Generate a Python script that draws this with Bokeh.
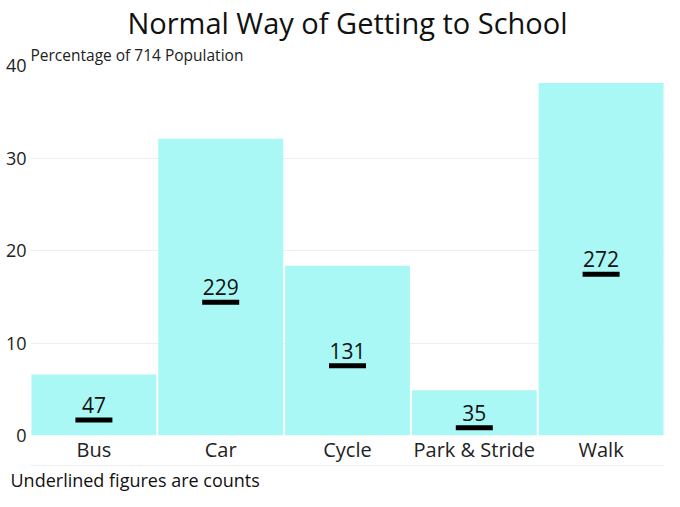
from bokeh.plotting import figure
from bokeh.models import (FactorRange, Range1d, Title, CategoricalAxis,
                          FixedTicker, ColumnDataSource)
from bokeh.core.properties import value
from bokeh.embed import file_html
from bokeh.resources import INLINE

# ---- data ----
modes = ["Bus", "Car", "Cycle", "Park & Stride", "Walk"]
counts = [47, 229, 131, 35, 272]
population = 714
y_ticks = [0, 10, 20, 30, 40]
title_text = "Normal Way of Getting to School"
y_label = "Percentage of 714 Population"
footer_text = "Underlined figures are counts"

pct = [c / population * 100 for c in counts]
half = [v / 2 for v in pct]

FONT = "Open Sans"
W, H = 664, 491
ML = 30
FRAME_H = 370
px_per_unit = FRAME_H / 40.0
under = [h - 15 / px_per_unit for h in half]

src = ColumnDataSource(dict(mode=modes, pct=pct, half=half, under=under,
                            label=[str(c) for c in counts]))

p = figure(x_range=FactorRange(*modes), y_range=Range1d(0, 40),
           width=W, height=H, output_backend="svg", toolbar_location=None,
           title=None, min_border_left=ML, min_border_right=0,
           min_border_top=0, min_border_bottom=0, outline_line_color=None)

p.vbar(x="mode", top="pct", width=0.985, source=src,
       fill_color="#aaf8f5", line_color=None)

p.text(x="mode", y="half", text="label", source=src,
       text_align="center", text_baseline="middle",
       text_font=value(FONT), text_font_size="21px", text_color="#111111")
p.rect(x="mode", y="under", width=37, height=5, width_units="screen",
       height_units="screen", source=src, fill_color="black", line_color=None)

# axes
p.xaxis.axis_line_color = None
p.xaxis.major_tick_line_color = None
p.xaxis.minor_tick_line_color = None
p.xaxis.major_tick_out = 0
p.xaxis.major_label_text_font = FONT
p.xaxis.major_label_text_font_size = "20px"
p.xaxis.major_label_text_color = "#222222"
p.xaxis.major_label_standoff = 0

p.yaxis.ticker = FixedTicker(ticks=y_ticks)
p.yaxis.axis_line_color = None
p.yaxis.major_tick_line_color = None
p.yaxis.minor_tick_line_color = None
p.yaxis.major_tick_out = 0
p.yaxis.major_label_text_font = FONT
p.yaxis.major_label_text_font_size = "18px"
p.yaxis.major_label_text_color = "#222222"
p.yaxis.major_label_standoff = 4

p.xgrid.grid_line_color = None
p.ygrid.grid_line_color = "#eeeeee"

# y label (nearest the frame), then main title above it
p.add_layout(Title(text=y_label, align="left", standoff=0,
                   text_font=FONT, text_font_size="15.5px",
                   text_font_style="normal", text_color="#222222"), "above")
p.add_layout(Title(text=title_text, align="center", standoff=0,
                   text_font=FONT, text_font_size="29px",
                   text_font_style="normal", text_color="#111111"), "above")

# thin separator line below x labels
sep = CategoricalAxis(axis_line_color="#eeeeee", major_tick_line_color=None,
                      minor_tick_line_color=None, major_tick_out=0,
                      major_label_text_font_size="0px",
                      major_label_text_alpha=0, major_label_standoff=0)
p.add_layout(sep, "below")

# footer
p.add_layout(Title(text=footer_text, align="left", offset=-20, standoff=0,
                   text_font=FONT, text_font_size="18px",
                   text_font_style="normal", text_color="#111111"), "below")

open("out.html", "w").write(file_html(p, INLINE))
